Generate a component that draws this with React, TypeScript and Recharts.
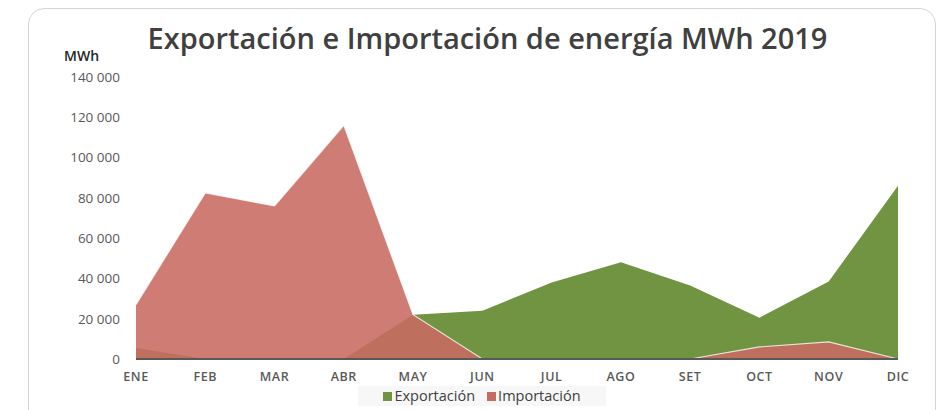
import { AreaChart, Area, XAxis, YAxis } from "recharts";

const months = ["ENE", "FEB", "MAR", "ABR", "MAY", "JUN", "JUL", "AGO", "SET", "OCT", "NOV", "DIC"];
const exportacion = [5500, 0, 0, 0, 22000, 24000, 38000, 48000, 36500, 20500, 38500, 86000];
const importacion = [27000, 82500, 76000, 116000, 22000, 0, 0, 0, 0, 6000, 8500, 0];
const yTicks = [0, 20000, 40000, 60000, 80000, 100000, 120000, 140000];

const seriesNames = ["Exportación", "Importación"];
const seriesColors = ["#719443", "#c86a62"];

const data = months.map((m, i) => ({
  mes: m,
  exportacion: exportacion[i],
  importacion: importacion[i],
}));

const fmt = (v: number) => v.toLocaleString("en-US").replace(/,/g, " ");

const font = "'Open Sans', sans-serif";

function LegendBox() {
  return (
    <div
      style={{
        position: "absolute",
        left: 358,
        top: 386,
        width: 248,
        height: 20,
        display: "flex",
        justifyContent: "center",
        alignItems: "center",
        gap: 12,
        background: "#f7f7f7",
        fontFamily: font,
        fontSize: 14.5,
        lineHeight: "20px",
        color: "#404040",
      }}
    >
      {seriesNames.map((n, i) => (
        <span key={n} style={{ display: "flex", alignItems: "center" }}>
          <span style={{ width: 9, height: 9, background: seriesColors[i], marginRight: 2 }} />
          {n}
        </span>
      ))}
    </div>
  );
}

export default function App() {
  return (
    <div style={{ position: "absolute", left: 0, top: 0, width: 942, height: 410, overflow: "hidden", background: "#fff" }}>
      <div
        style={{
          position: "absolute",
          left: 28,
          top: 8,
          width: 906,
          height: 430,
          border: "1.5px solid #d4d4d4",
          borderRadius: 16,
        }}
      />
      <div
        style={{
          position: "absolute",
          left: 0,
          width: 975,
          top: 18,
          textAlign: "center",
          fontFamily: font,
          fontWeight: 600,
          fontSize: 29,
          color: "#404040",
        }}
      >
        Exportación e Importación de energía MWh 2019
      </div>
      <div style={{ position: "absolute", left: 64, top: 46, fontFamily: font, fontWeight: 600, fontSize: 14, color: "#262626" }}>
        MWh
      </div>
      <AreaChart width={942} height={410} data={data} margin={{ top: 77, right: 44, left: 60, bottom: 21 }}>
        <XAxis
          dataKey="mes"
          axisLine={{ stroke: "#595959", strokeWidth: 2 }}
          tickLine={false}
          tickMargin={7}
          height={30}
          tick={{ fontSize: 12.5, fill: "#595959", fontFamily: font, fontWeight: 600, letterSpacing: 0.6 }}
        />
        <YAxis
          domain={[0, 140000]}
          ticks={yTicks}
          width={76}
          axisLine={false}
          tickLine={false}
          tickMargin={10}
          tickFormatter={fmt}
          tick={{ fontSize: 13.5, fill: "#595959", fontFamily: font }}
        />
        <Area
          type="linear"
          dataKey="exportacion"
          name={seriesNames[0]}
          fill={seriesColors[0]}
          fillOpacity={1}
          stroke="none"
          isAnimationActive={false}
        />
        <Area
          type="linear"
          dataKey="importacion"
          name={seriesNames[1]}
          fill={seriesColors[1]}
          fillOpacity={0.88}
          stroke="#ffffff"
          strokeOpacity={0.8}
          strokeWidth={1.2}
          isAnimationActive={false}
        />
      </AreaChart>
      <LegendBox />
    </div>
  );
}
